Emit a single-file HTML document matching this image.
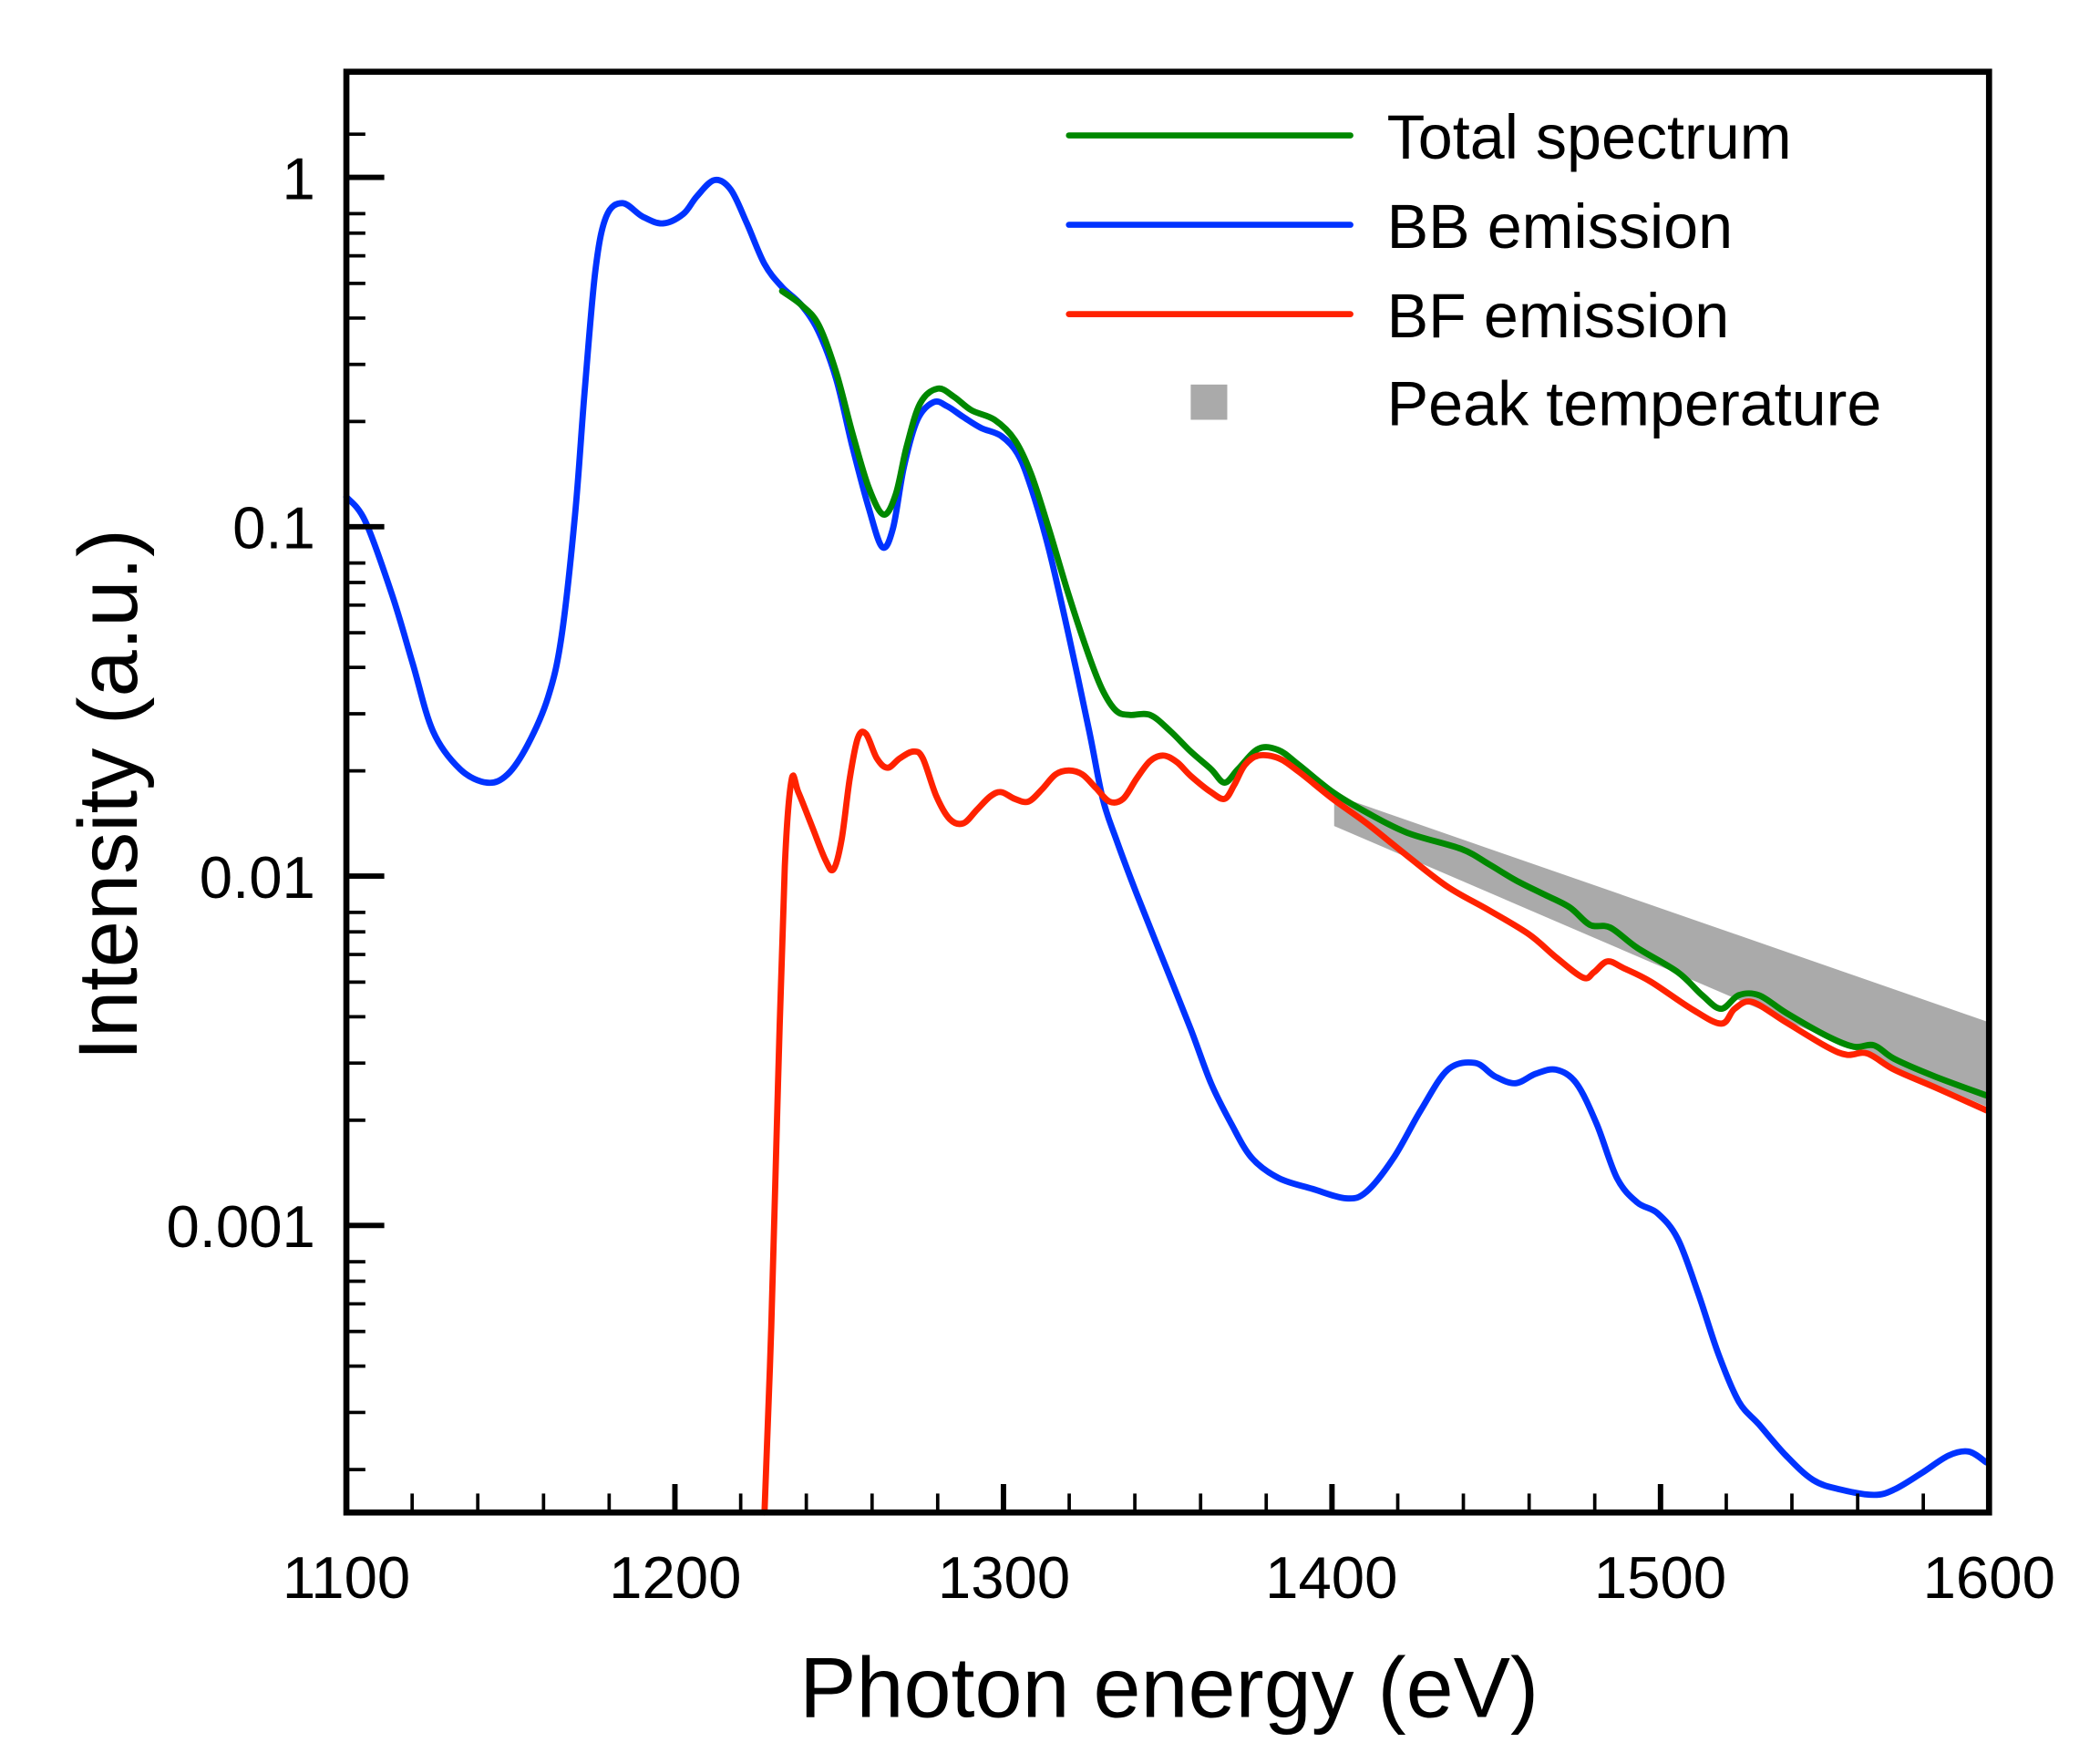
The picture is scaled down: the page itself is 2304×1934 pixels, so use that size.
<!DOCTYPE html>
<html><head><meta charset="utf-8"><style>
html,body{margin:0;padding:0;background:#fff;}
svg{display:block;}
text{font-family:"Liberation Sans",Arial,sans-serif;fill:#000;}
</style></head><body>
<svg id="chart" width="2304" height="1934" viewBox="0 0 1552 1302" preserveAspectRatio="none" xmlns="http://www.w3.org/2000/svg">
<rect width="1552" height="1302" fill="#fff"/>
<polygon points="986,587 1470,755 1470,818 986,610" fill="#aaaaaa"/>
<g fill="none" stroke-width="4.6" stroke-linejoin="round" stroke-linecap="round" class="curves">
<polyline stroke="#0033ff" points="256,367 270,385 290,440 305,490 320,540 340,568 360,578 375,572 390,550 405,515 415,470 425,380 432,290 440,200 448,160 460,150 475,160 490,165 505,158 515,145 528,133 540,140 552,165 565,195 578,212 592,225 605,245 618,280 630,330 642,375 652,404 660,390 668,345 678,310 690,297 700,300 712,308 725,316 740,322 752,335 762,360 775,405 790,470 805,540 815,590 825,620 840,660 860,710 880,760 895,800 910,830 925,855 945,870 970,878 995,885 1010,880 1030,855 1050,820 1070,790 1090,785 1105,795 1120,800 1135,793 1150,790 1165,800 1180,830 1195,870 1210,888 1225,896 1240,915 1255,955 1270,1000 1285,1035 1300,1052 1320,1075 1340,1093 1360,1100 1385,1104 1400,1100 1420,1088 1440,1075 1455,1072 1468,1080"/>
<polyline stroke="#008800" points="578,215 592,225 605,240 618,275 630,320 642,360 653,380 662,365 670,330 680,298 693,287 705,293 718,303 735,310 750,325 762,350 775,390 790,440 805,485 815,510 825,525 835,528 850,528 865,540 880,555 895,568 905,578 915,568 930,553 945,554 960,565 985,585 1010,600 1040,615 1080,627 1100,638 1120,650 1140,660 1160,670 1175,683 1190,685 1210,700 1240,718 1258,735 1272,745 1285,735 1300,735 1320,748 1350,765 1370,773 1385,772 1400,782 1430,795 1468,809"/>
<polyline stroke="#ff2200" points="565,1117 570,980 575,800 580,640 585,576 590,585 600,610 610,635 616,642 622,620 628,575 634,545 640,542 648,560 656,567 665,560 675,555 682,560 692,588 702,605 712,608 722,598 732,588 740,585 750,590 760,592 770,583 780,572 790,569 800,572 810,582 820,592 830,590 840,575 850,562 860,558 870,563 880,573 895,585 905,590 912,580 920,565 930,558 945,560 960,570 985,590 1010,608 1040,632 1070,655 1100,672 1130,690 1150,707 1170,722 1178,718 1188,710 1200,715 1220,725 1250,745 1272,756 1282,745 1295,740 1320,755 1350,773 1365,779 1380,778 1400,790 1430,803 1468,820"/>
</g>
<rect x="256" y="53" width="1214" height="1064" fill="none" stroke="#000" stroke-width="4.5"/>
<g stroke="#000" stroke-width="4">
<line x1="256" y1="131" x2="284" y2="131"/><line x1="256" y1="389" x2="284" y2="389"/><line x1="256" y1="647" x2="284" y2="647"/><line x1="256" y1="905" x2="284" y2="905"/>
</g>
<g stroke="#000" stroke-width="2.5">
<line x1="256" y1="99.1" x2="270" y2="99.1"/>
<line x1="256" y1="157.8" x2="270" y2="157.8"/><line x1="256" y1="172.2" x2="270" y2="172.2"/><line x1="256" y1="188.9" x2="270" y2="188.9"/><line x1="256" y1="209.3" x2="270" y2="209.3"/><line x1="256" y1="234.9" x2="270" y2="234.9"/><line x1="256" y1="269.1" x2="270" y2="269.1"/><line x1="256" y1="311.3" x2="270" y2="311.3"/>
<line x1="256" y1="415.8" x2="270" y2="415.8"/><line x1="256" y1="430.2" x2="270" y2="430.2"/><line x1="256" y1="446.9" x2="270" y2="446.9"/><line x1="256" y1="467.3" x2="270" y2="467.3"/><line x1="256" y1="492.9" x2="270" y2="492.9"/><line x1="256" y1="527.1" x2="270" y2="527.1"/><line x1="256" y1="569.3" x2="270" y2="569.3"/>
<line x1="256" y1="673.8" x2="270" y2="673.8"/><line x1="256" y1="688.2" x2="270" y2="688.2"/><line x1="256" y1="704.9" x2="270" y2="704.9"/><line x1="256" y1="725.3" x2="270" y2="725.3"/><line x1="256" y1="750.9" x2="270" y2="750.9"/><line x1="256" y1="785.1" x2="270" y2="785.1"/><line x1="256" y1="827.3" x2="270" y2="827.3"/>
<line x1="256" y1="931.8" x2="270" y2="931.8"/><line x1="256" y1="946.2" x2="270" y2="946.2"/><line x1="256" y1="962.9" x2="270" y2="962.9"/><line x1="256" y1="983.3" x2="270" y2="983.3"/><line x1="256" y1="1008.9" x2="270" y2="1008.9"/><line x1="256" y1="1043.1" x2="270" y2="1043.1"/><line x1="256" y1="1085.3" x2="270" y2="1085.3"/>
<line x1="304.6" y1="1117" x2="304.6" y2="1103"/><line x1="353.1" y1="1117" x2="353.1" y2="1103"/><line x1="401.7" y1="1117" x2="401.7" y2="1103"/><line x1="450.2" y1="1117" x2="450.2" y2="1103"/>
<line x1="547.4" y1="1117" x2="547.4" y2="1103"/><line x1="595.9" y1="1117" x2="595.9" y2="1103"/><line x1="644.5" y1="1117" x2="644.5" y2="1103"/><line x1="693" y1="1117" x2="693" y2="1103"/>
<line x1="790.2" y1="1117" x2="790.2" y2="1103"/><line x1="838.7" y1="1117" x2="838.7" y2="1103"/><line x1="887.3" y1="1117" x2="887.3" y2="1103"/><line x1="935.8" y1="1117" x2="935.8" y2="1103"/>
<line x1="1033" y1="1117" x2="1033" y2="1103"/><line x1="1081.5" y1="1117" x2="1081.5" y2="1103"/><line x1="1130.1" y1="1117" x2="1130.1" y2="1103"/><line x1="1178.6" y1="1117" x2="1178.6" y2="1103"/>
<line x1="1275.8" y1="1117" x2="1275.8" y2="1103"/><line x1="1324.3" y1="1117" x2="1324.3" y2="1103"/><line x1="1372.9" y1="1117" x2="1372.9" y2="1103"/><line x1="1421.4" y1="1117" x2="1421.4" y2="1103"/>
</g>
<g stroke="#000" stroke-width="4">
<line x1="498.8" y1="1117" x2="498.8" y2="1096"/><line x1="741.6" y1="1117" x2="741.6" y2="1096"/><line x1="984.4" y1="1117" x2="984.4" y2="1096"/><line x1="1227.2" y1="1117" x2="1227.2" y2="1096"/>
</g>
<g font-size="44" text-anchor="end">
<text x="233" y="147">1</text>
<text x="233" y="405">0.1</text>
<text x="233" y="663">0.01</text>
<text x="233" y="921">0.001</text>
</g>
<g font-size="44" text-anchor="middle">
<text x="256" y="1180">1100</text>
<text x="499" y="1180">1200</text>
<text x="742" y="1180">1300</text>
<text x="984" y="1180">1400</text>
<text x="1227" y="1180">1500</text>
<text x="1470" y="1180">1600</text>
</g>
<text x="864" y="1268" font-size="63" text-anchor="middle">Photon energy (eV)</text>
<text transform="translate(101,587) rotate(-90)" font-size="62" text-anchor="middle">Intensity (a.u.)</text>
<g stroke-width="4.5" stroke-linecap="round">
<line x1="790" y1="100" x2="998" y2="100" stroke="#008800"/>
<line x1="790" y1="166" x2="998" y2="166" stroke="#0033ff"/>
<line x1="790" y1="232" x2="998" y2="232" stroke="#ff2200"/>
</g>
<rect x="880" y="284" width="27" height="26" fill="#aaaaaa"/>
<g font-size="46">
<text x="1025" y="117">Total spectrum</text>
<text x="1025" y="183">BB emission</text>
<text x="1025" y="249">BF emission</text>
<text x="1025" y="314">Peak temperature</text>
</g>
</svg>
<script>
(function(){
var NS="http://www.w3.org/2000/svg";
document.querySelectorAll('.curves polyline').forEach(function(pl){
 var pts=pl.getAttribute('points').trim().split(/\s+/).map(function(s){var a=s.split(',');return [+a[0],+a[1]];});
 var d="M"+pts[0][0]+","+pts[0][1];
 for(var i=0;i<pts.length-1;i++){
  var p0=pts[i-1]||pts[i],p1=pts[i],p2=pts[i+1],p3=pts[i+2]||p2;
  var c1x=p1[0]+(p2[0]-p0[0])/6,c1y=p1[1]+(p2[1]-p0[1])/6;
  var c2x=p2[0]-(p3[0]-p1[0])/6,c2y=p2[1]-(p3[1]-p1[1])/6;
  d+=" C"+c1x.toFixed(2)+","+c1y.toFixed(2)+" "+c2x.toFixed(2)+","+c2y.toFixed(2)+" "+p2[0]+","+p2[1];
 }
 var p=document.createElementNS(NS,'path');
 p.setAttribute('d',d);p.setAttribute('stroke',pl.getAttribute('stroke'));
 pl.parentNode.replaceChild(p,pl);
});
})();
</script>
</body></html>
